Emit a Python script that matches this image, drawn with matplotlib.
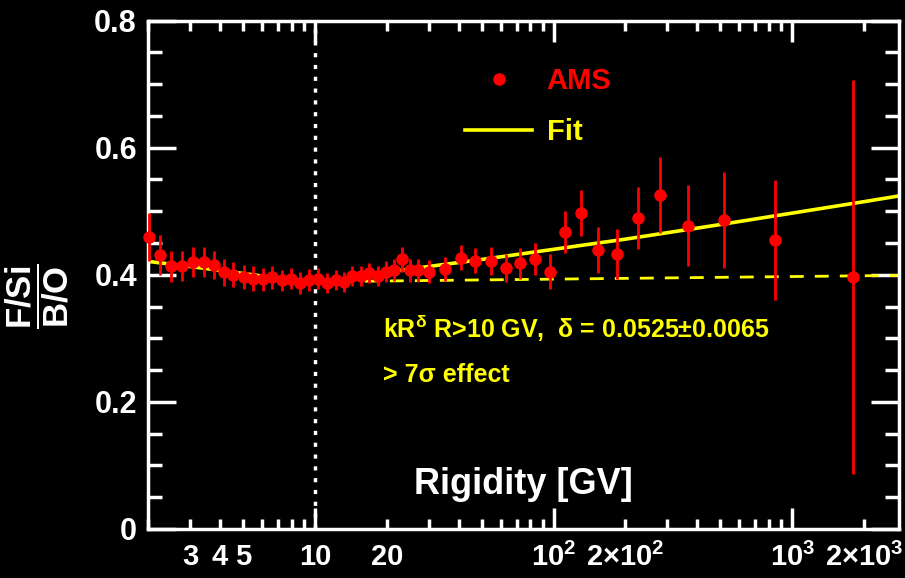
import matplotlib
matplotlib.use("Agg")
import matplotlib.pyplot as plt
from matplotlib.lines import Line2D
from matplotlib.ticker import FixedLocator, NullFormatter

plt.rcParams['font.family'] = ['Liberation Sans', 'DejaVu Sans']
plt.rcParams['font.weight'] = 'bold'
plt.rcParams['mathtext.fontset'] = 'custom'
plt.rcParams['mathtext.rm'] = 'Liberation Sans:bold'
plt.rcParams['mathtext.bf'] = 'Liberation Sans:bold'
plt.rcParams['mathtext.it'] = 'Liberation Sans:bold'

# AMS F/Si over B/O ratio vs rigidity
rigidity = [2.01, 2.25, 2.50, 2.78, 3.08, 3.42, 3.79, 4.16, 4.55, 5.03, 5.52, 6.06,
            6.64, 7.29, 7.98, 8.65, 9.46, 10.3, 11.27, 12.22, 13.24, 14.35, 15.56,
            16.86, 18.34, 19.88, 21.48, 23.21, 25.07, 27.02, 30.22, 35.07, 40.78,
            47.01, 54.53, 63.04, 72.5, 84.0, 96.8, 111.6, 130.8, 154.1, 184.5,
            224.8, 279.7, 364.6, 516.4, 848.6, 1799]
ratio = [0.459, 0.431, 0.413, 0.414, 0.420, 0.420, 0.415, 0.404, 0.400, 0.397, 0.394, 0.393,
         0.396, 0.391, 0.394, 0.387, 0.392, 0.394, 0.387, 0.392, 0.389, 0.398, 0.398,
         0.403, 0.398, 0.405, 0.407, 0.424, 0.407, 0.407, 0.405, 0.409, 0.427,
         0.422, 0.422, 0.411, 0.418, 0.425, 0.405, 0.467, 0.497, 0.439, 0.433,
         0.489, 0.525, 0.477, 0.486, 0.455, 0.396]
ratio_err = [0.038, 0.031, 0.025, 0.024, 0.024, 0.023, 0.022, 0.021, 0.020, 0.019, 0.019, 0.018,
             0.018, 0.017, 0.017, 0.017, 0.017, 0.017, 0.016, 0.016, 0.016, 0.016, 0.016,
             0.016, 0.016, 0.016, 0.017, 0.020, 0.018, 0.018, 0.018, 0.019, 0.020,
             0.020, 0.022, 0.022, 0.024, 0.025, 0.027, 0.033, 0.036, 0.036, 0.039,
             0.049, 0.060, 0.064, 0.075, 0.094, 0.31]

# fit curve
fit_R = [2.0, 3, 4, 5, 6, 7, 8, 9, 10, 12, 15, 20, 30, 50, 100, 200, 500, 1000, 2000, 2800]
fit_v = [0.421, 0.413, 0.407, 0.402, 0.398, 0.395, 0.393, 0.391, 0.390, 0.390, 0.396,
         0.404, 0.413, 0.424, 0.440, 0.456, 0.479, 0.497, 0.515, 0.524]

# low-rigidity extrapolation (dashed)
dash_R = [10, 2800]
dash_v = [0.389, 0.399]

xticks = [3, 4, 5, 10, 20, 100, 200, 1000, 2000]
xticklabels = ['3', '4', '5', '10', '20', r'$10^2$', r'$2{\times}10^2$', r'$10^3$', r'$2{\times}10^3$']

fig = plt.figure(figsize=(9.05, 5.78), dpi=100, facecolor='black')
ax = fig.add_axes([148/905, 1-529/578, 751/905, 508.5/578], facecolor='black')

ax.axvline(10, color='white', lw=2.5, ls=(0, (1.2, 2.2)), zorder=1)
ax.plot(dash_R, dash_v, color='#ffff00', lw=2, ls=(0, (5, 4)), zorder=2)
ax.plot(fit_R, fit_v, color='#ffff00', lw=2.6, zorder=2)
pts = ax.errorbar(rigidity, ratio, yerr=ratio_err, fmt='o', color='#ff0000', ms=8,
                  elinewidth=2, capsize=0, zorder=3)
pts[0].set_clip_on(False)

ax.set_xscale('log')
ax.set_xlim(2.0, 2800)
ax.set_ylim(0, 0.8)

# ticks
ax.xaxis.set_major_locator(FixedLocator([10, 100, 1000]))
ax.xaxis.set_major_formatter(NullFormatter())
minor = [m * d for d in [1, 10, 100, 1000] for m in range(2, 10) if 2 <= m * d <= 2800]
ax.xaxis.set_minor_locator(FixedLocator(minor))
ax.xaxis.set_minor_formatter(NullFormatter())
ax.set_yticks([0, 0.2, 0.4, 0.6, 0.8])
ax.set_yticklabels(['0', '0.2', '0.4', '0.6', '0.8'])
ax.set_yticks([i * 0.05 for i in range(17)], minor=True)
ax.tick_params(which='both', direction='in', top=True, right=True, color='white',
               width=2.5, labelcolor='white', labelsize=22)
ax.tick_params(axis='x', which='major', length=15)
ax.tick_params(axis='x', which='minor', length=7)
ax.tick_params(axis='y', which='major', length=20, pad=8)
ax.tick_params(axis='y', which='minor', length=10)
for s in ax.spines.values():
    s.set_color('white')
    s.set_linewidth(2.5)

# x tick labels as separate texts (ticks differ from labelled positions)
for xt, lab in zip(xticks, xticklabels):
    ax.text(xt, -0.028, lab, transform=ax.get_xaxis_transform(), ha='center', va='top',
            color='white', fontsize=21, fontweight='bold')

ax.text(0.5, 0.087, 'Rigidity [GV]', transform=ax.transAxes, ha='center', va='center',
        color='white', fontsize=26, fontweight='bold')

fig.text(37/905, 1-296/578, r'$\dfrac{F/Si}{B/O}$', rotation=90, ha='center', va='center',
         color='white', fontsize=25)

ax.text(0.313, 0.376, r'kR$^{δ}$ R>10 GV,  δ = 0.0525±0.0065', transform=ax.transAxes,
        ha='left', va='baseline', color='#ffff00', fontsize=18, fontweight='bold')
ax.text(0.313, 0.29, '> 7σ effect', transform=ax.transAxes,
        ha='left', va='baseline', color='#ffff00', fontsize=18, fontweight='bold')

handles = [Line2D([], [], color='#ff0000', marker='o', ls='none', ms=8),
           Line2D([], [], color='#ffff00', lw=2.6)]
leg = ax.legend(handles, ['AMS', 'Fit'], loc='upper left', bbox_to_anchor=(465/905, 1-67/578),
                bbox_transform=fig.transFigure, frameon=False, fontsize=21,
                handlelength=2.3, handletextpad=0.5, labelspacing=0.8,
                borderpad=0, borderaxespad=0)
for t, c in zip(leg.get_texts(), ['#ff0000', '#ffff00']):
    t.set_color(c)
    t.set_fontweight('bold')

fig.savefig('out.png', dpi=100, facecolor='black')
